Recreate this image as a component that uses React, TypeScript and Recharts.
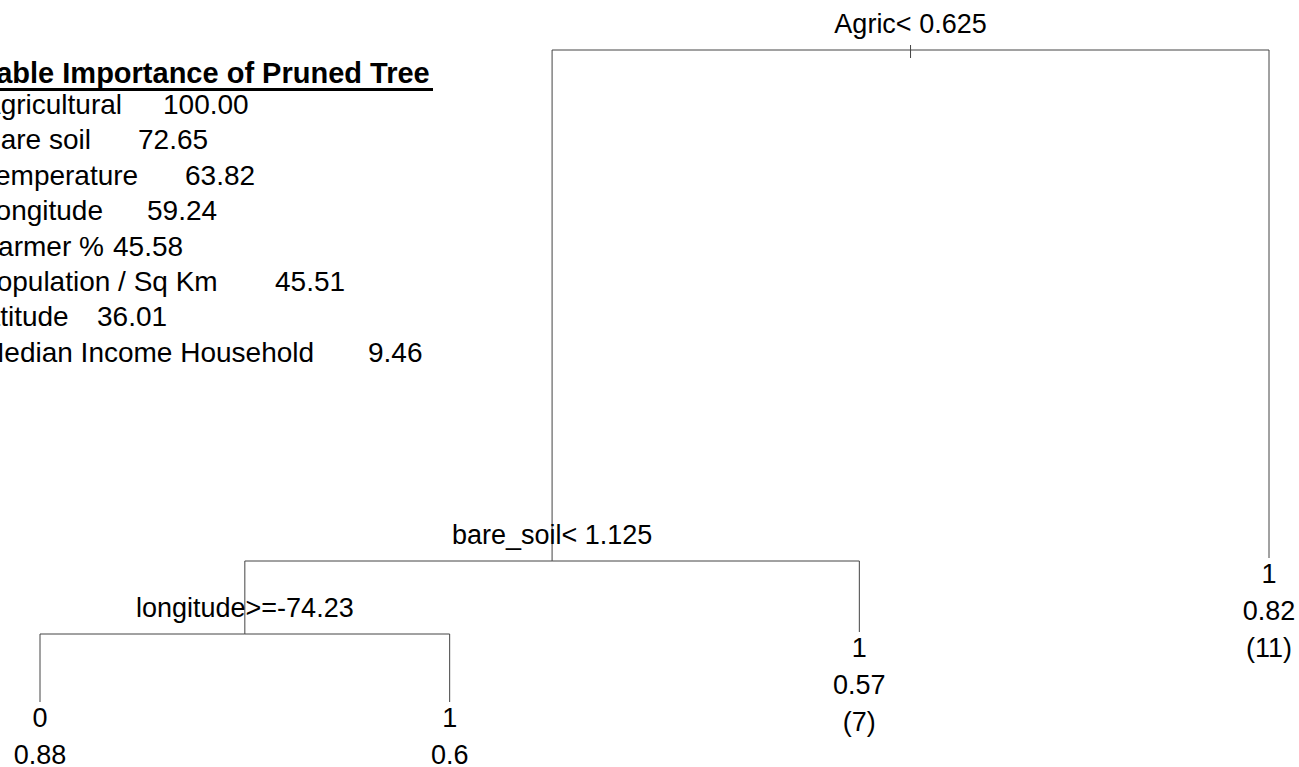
import React from 'react';
import { ComposedChart, XAxis, YAxis, Line, Scatter } from 'recharts';

// ---- Tree data (rpart-style layout: x = leaf order, y = node height) ----
const nodeIds = [0, 1, 2, 3, 4, 5, 6];
const nodeParents = [-1, 0, 1, 2, 2, 1, 0];
const nodeX = [3.125, 2.25, 1.5, 1, 2, 3, 4];
const nodeY = [717, 206, 133, 65, 65, 135, 209];
const splitLabels = ['Agric< 0.625', 'bare_soil< 1.125', 'longitude>=-74.23', '', '', '', ''];
const leafClass = ['', '', '', '0', '1', '1', '1'];
const leafProb = ['', '', '', '0.88', '0.6', '0.57', '0.82'];
const leafN = ['', '', '', '', '', '(7)', '(11)'];

// ---- Variable importance text ----
const impTitle = 'Variable Importance of Pruned Tree';
const impNames = [
  'Agricultural',
  'Bare soil',
  'Temperature',
  'Longitude',
  'Farmer %',
  'Population / Sq Km',
  'Latitude',
  'Median Income Household',
];
const impValues = ['100.00', '72.65', '63.82', '59.24', '45.58', '45.51', '36.01', '9.46'];

// layout only
const W = 1299;
const H = 767;
const X_DOMAIN: [number, number] = [0.90236, 4.07322];
const Y_DOMAIN: [number, number] = [0, 767];
const nameOffsets = [-18, -18, -19, -20, -19, -22, -31, -19];
const valueOffsets = [163, 138, 185, 147, 113, 275, 97, 368];
const FONT = '"Liberation Sans", Arial, Helvetica, sans-serif';
const LINE_COLOR = '#444';

const nodes = nodeIds.map((i) => ({
  id: i,
  x: nodeX[i],
  y: nodeY[i],
  split: splitLabels[i],
  cls: leafClass[i],
  prob: leafProb[i],
  n: leafN[i],
}));

const edges = nodeIds
  .filter((i) => nodeParents[i] >= 0)
  .map((i) => {
    const p = nodeParents[i];
    return [
      { x: nodeX[i], y: nodeY[i] },
      { x: nodeX[i], y: nodeY[p] },
      { x: nodeX[p], y: nodeY[p] },
    ];
  });

const rootTick = [
  { x: nodeX[0], y: nodeY[0] + 5 },
  { x: nodeX[0], y: nodeY[0] - 8 },
];

const NodeShape = (props: any) => {
  const { cx, cy, payload } = props;
  if (cx == null || cy == null) return null;
  const fs = 27;
  const items: React.ReactNode[] = [];
  if (payload.split) {
    items.push(
      <text key="s" x={cx} y={cy - 17} textAnchor="middle" fontSize={fs} fontFamily={FONT} fill="#000">
        {payload.split}
      </text>
    );
  }
  const lines = [payload.cls, payload.prob, payload.n].filter((t: string) => t);
  lines.forEach((t: string, k: number) => {
    items.push(
      <text key={'l' + k} x={cx} y={cy + 25 + k * 37} textAnchor="middle" fontSize={fs} fontFamily={FONT} fill="#000">
        {t}
      </text>
    );
  });
  return <g>{items}</g>;
};

export default function App() {
  return (
    <div style={{ position: 'absolute', left: 0, top: 0, width: W, height: H, background: '#fff', overflow: 'hidden' }}>
      <ComposedChart width={W} height={H} margin={{ top: 0, right: 0, bottom: 0, left: 0 }}>
        <XAxis type="number" dataKey="x" domain={X_DOMAIN} allowDataOverflow hide height={0} />
        <YAxis type="number" dataKey="y" domain={Y_DOMAIN} allowDataOverflow hide width={0} />
        {edges.map((pts, k) => (
          <Line
            key={'e' + k}
            data={pts}
            dataKey="y"
            type="linear"
            stroke={LINE_COLOR}
            strokeWidth={1}
            dot={false}
            activeDot={false}
            isAnimationActive={false}
          />
        ))}
        <Line
          data={rootTick}
          dataKey="y"
          type="linear"
          stroke={LINE_COLOR}
          strokeWidth={1}
          dot={false}
          activeDot={false}
          isAnimationActive={false}
        />
        <Scatter data={nodes} dataKey="y" shape={NodeShape} isAnimationActive={false} />
      </ComposedChart>
      <svg width={W} height={H} style={{ position: 'absolute', left: 0, top: 0, pointerEvents: 'none' }}>
        <text x={-57} y={83} fontSize={29} fontWeight="bold" fontFamily={FONT} fill="#000">
          {impTitle}
        </text>
        <line x1={0} x2={433} y1={89.5} y2={89.5} stroke="#000" strokeWidth={3} />
        {impNames.map((nm, i) => (
          <g key={nm}>
            <text x={nameOffsets[i]} y={114 + i * 35.4} fontSize={28} fontFamily={FONT} fill="#000">
              {nm}
            </text>
            <text x={valueOffsets[i]} y={114 + i * 35.4} fontSize={28} fontFamily={FONT} fill="#000">
              {impValues[i]}
            </text>
          </g>
        ))}
      </svg>
    </div>
  );
}
